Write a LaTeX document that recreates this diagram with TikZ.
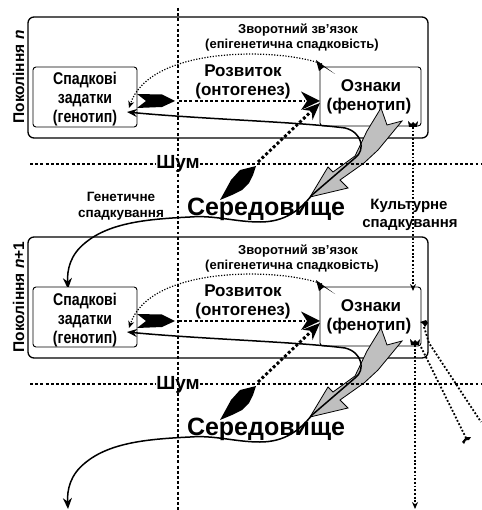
\documentclass[tikz,border=0pt]{standalone}
\usepackage{fontspec}
\setmainfont{Liberation Sans}
\newfontfamily\narrowfont{Liberation Sans}[FakeStretch=0.83]
\usetikzlibrary{arrows.meta}
\tikzset{
 genbox/.style={draw, line width=1.3pt, rounded corners=6pt, inner sep=0pt},
 smallbox/.style={draw, line width=0.9pt, rounded corners=3pt, inner sep=0pt, fill=white},
 dotthick/.style={line width=2.9pt, dash pattern=on 2.9pt off 2.3pt},
 dotmed/.style={line width=1.8pt, dash pattern=on 1.8pt off 1.9pt},
 dotfine/.style={line width=1.2pt, dash pattern=on 1.2pt off 1.6pt},
 solidline/.style={line width=1.5pt},
 gtxt/.style={inner sep=0pt, anchor=base, font=\narrowfont\bfseries\fontsize{17}{19}\selectfont},
 ptxt/.style={inner sep=0pt, anchor=base, font=\bfseries\fontsize{17}{19}\selectfont},
 rtxt/.style={inner sep=0pt, anchor=base, font=\bfseries\fontsize{17}{19}\selectfont},
 ftxt/.style={inner sep=0pt, anchor=base, font=\bfseries\fontsize{13}{15}\selectfont},
 noisetxt/.style={inner sep=0pt, anchor=base, font=\bfseries\fontsize{19}{21}\selectfont},
 envtxt/.style={inner sep=0pt, anchor=base, font=\bfseries\fontsize{25}{27}\selectfont},
 inhtxt/.style={inner sep=0pt, anchor=base, font=\bfseries\fontsize{13.5}{15}\selectfont},
 culttxt/.style={inner sep=0pt, anchor=base, font=\bfseries\fontsize{15}{17}\selectfont},
 lbl/.style={inner sep=0pt, font=\bfseries\fontsize{15.5}{17}\selectfont},
 grayarrow/.style={fill=black!25, draw=black, line width=0.8pt},
}
\newcommand\generation[3]{%
\begin{scope}[yshift=-#2pt]
\node[genbox, minimum width=400pt, minimum height=121pt] (G#1) at (228,77.5) {};
\node[lbl, rotate=90] (L#1) at (18.5,77) {#3};
\node[smallbox, minimum width=104pt, minimum height=60pt] (g#1) at (85,97) {};
\node[gtxt] (ga#1) at (85,85) {Спадкові};
\node[gtxt] (gb#1) at (85,104) {задатки};
\node[gtxt] (gc#1) at (85,123) {(генотип)};
\node[smallbox, minimum width=101pt, minimum height=59pt] (p#1) at (370.5,96.5) {};
\node[ptxt] (pa#1) at (371,91.5) {Ознаки};
\node[ptxt] (pb#1) at (369,110.5) {(фенотип)};
\node[rtxt] (ra#1) at (243,76.5) {Розвиток};
\node[rtxt] (rb#1) at (243,95.5) {(онтогенез)};
\node[ftxt] (fa#1) at (298,34) {Зворотний зв'язок};
\node[ftxt] (fb#1) at (292,49) {(епігенетична спадковість)};
% feedback arc
\coordinate (fs#1) at (322,64);
\coordinate (fe#1) at (129,108);
\draw[dotfine, -{Stealth[length=7pt,width=6pt]}] (fs#1) .. controls (280,48) and (150,45) .. (fe#1);
\fill (316,60) -- (335,74) -- (324,67) -- (319,71) -- cycle;
% development
\fill (137,94) -- (162,94.5) -- (175,101) -- (162,107) -- (137,108) -- (146,101) -- cycle;
\coordinate (ds#1) at (179,101);
\coordinate (de#1) at (305,101);
\draw[dotthick] (ds#1) -- (de#1);
\fill (320,101) -- (301,91.5) -- (307,101) -- (301,110) -- cycle;
% environment -> phenotype
\fill (256,166) -- (240,170) -- (231,180) -- (225,191) -- (220,200) -- (232,195) -- (242,190) -- (249,183) -- (253,175) -- cycle;
\coordinate (es#1) at (258,162);
\coordinate (ee#1) at (320,103);
\draw[dotthick, -{Stealth[length=17pt,width=14pt]}] (es#1) -- (ee#1);
% gray arrow phenotype -> environment
\draw[grayarrow] (381,108) -- (387,125) -- (402,121) -- (378,150) -- (364,163) -- (340,180) -- (348,188) -- (310,197) -- (328,167) -- (333,172) -- (355,156) -- (367,131) -- cycle;
% solid line
\coordinate (ss#1) at (127,112);
\coordinate (st#1) at (68,289);
\draw[solidline, {Stealth[length=10pt,width=8pt]}-{Stealth[length=11pt,width=9pt]}] (ss#1) .. controls (200,119) and (300,122) .. (345,128) .. controls (362,132) and (366,150) .. (355,158) -- (312,195) .. controls (300,210) and (285,222) .. (260,222) .. controls (235,222) and (215,215) .. (190,217) .. controls (150,219) and (110,222) .. (85,243) .. controls (70,255) and (67,270) .. (st#1);
% noise
\node[noisetxt] (n#1) at (178,169) {Шум};
\draw[dotthick] (30,164) -- (n#1.west |- 0,164);
\draw[dotthick] (n#1.east |- 0,164) -- (481,164);
\node[envtxt] (e#1) at (266,215) {Середовище};
\end{scope}}

\begin{document}
\begin{tikzpicture}[x=1pt,y=-1pt]
\useasboundingbox (0,0) rectangle (481,510);
\generation{1}{0}{Покоління \textit{n}}
\generation{2}{220}{Покоління \textit{n}+1}
\draw[dotthick] (178,8) -- (178,510);
% inheritance labels
\node[inhtxt] (ia) at (121,202) {Генетичне};
\node[inhtxt] (ib) at (121,217.5) {спадкування};
\node[culttxt] (ca) at (409,210) {Культурне};
\node[culttxt] (cb) at (410,227) {спадкування};
% cultural inheritance
\coordinate (c1s) at (413,127);
\coordinate (c1e) at (413,291);
\draw[dotmed, -{Stealth[length=7pt,width=6pt]}] (c1s) -- (c1e);
\fill (408,121) -- (411,124) -- (413,122) -- (415,124) -- (418,121) -- (417,127) -- (409,127) -- cycle;
\coordinate (c2s) at (415,345);
\coordinate (c2e) at (415,509);
\draw[dotmed, -{Stealth[length=7pt,width=6pt]}] (c2s) -- (c2e);
\fill (410,339) -- (413,342) -- (415,340) -- (417,342) -- (420,339) -- (419,345) -- (411,345) -- cycle;
\coordinate (c3s) at (424,327);
\coordinate (c3e) at (481,422);
\draw[dotmed] (c3s) -- (429,343) -- (c3e);
\fill (420,322) -- (426,320) -- (428,323) -- (425,327) -- (423,324) -- cycle;
\coordinate (c4s) at (421,347);
\coordinate (c4e) at (467,440);
\draw[dotmed] (c4s) -- (c4e);
\fill (462,442) -- (466,437) -- (471,437) -- (469,440) -- (466,440) -- (464,444) -- cycle;
\end{tikzpicture}
\end{document}
